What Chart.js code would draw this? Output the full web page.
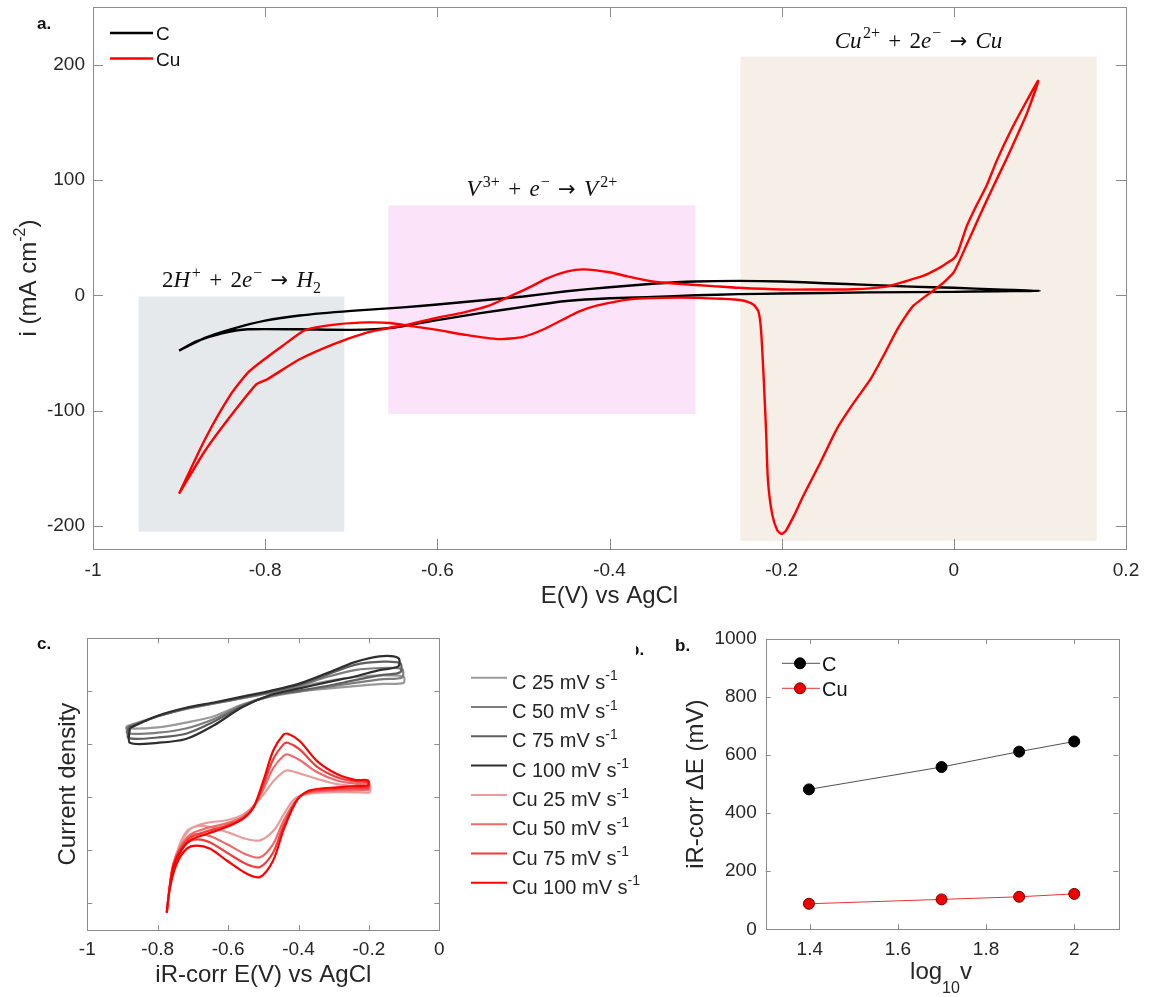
<!DOCTYPE html>
<html>
<head>
<meta charset="utf-8">
<script src="https://cdn.jsdelivr.net/npm/chart.js@4.4.0/dist/chart.umd.min.js"></script>
<style>
  body { margin: 0; background: #fff; }
  #page { position: relative; width: 1150px; height: 997px; overflow: hidden; font-family: "Liberation Sans", Arial, sans-serif; }
  canvas { position: absolute; }
  .tag { position: absolute; font-weight: bold; font-size: 17px; line-height: 17px; color: #111; }
</style>
</head>
<body>
<div id="page">
  <canvas id="cvA" width="1150" height="615" style="left:0;top:0"></canvas>
  <canvas id="cvC" width="650" height="382" style="left:0;top:615px"></canvas>
  <canvas id="cvB" width="530" height="382" style="left:620px;top:615px"></canvas>
  <div class="tag" style="left:37px;top:15px">a.</div>
  <div class="tag" style="left:37px;top:635px">c.</div>
  <div class="tag" style="left:675px;top:637px">b.</div>
  <div class="tag" style="left:636px;top:646px;width:12px;height:12px;overflow:hidden"><span style="position:absolute;left:-7px;top:-5px">b.</span></div>
</div>
<script>
// ---- panel a: full CV, [E (V), i (mA cm-2)] ----
const carbonCV = [
  [-0.900,-48],[-0.870,-37],[-0.840,-29.5],[-0.800,-22],[-0.760,-17.5],[-0.700,-13.5],[-0.640,-10.5],
  [-0.600,-8],[-0.550,-4.5],[-0.500,-1],[-0.450,3.5],[-0.400,7],[-0.350,10],[-0.300,12],[-0.250,12.5],
  [-0.200,12],[-0.150,10.5],[-0.100,9],[-0.050,7.5],[0.000,6.5],[0.050,5],[0.100,3.8],
  [0.050,3.5],[0.000,3],[-0.100,2.5],[-0.200,1.5],[-0.250,1],[-0.300,0],[-0.350,-1.5],[-0.400,-2.5],
  [-0.450,-5],[-0.500,-10],[-0.550,-15.5],[-0.600,-21.5],[-0.650,-28],[-0.700,-30],[-0.760,-29.5],
  [-0.820,-29.5],[-0.850,-33],[-0.880,-40],[-0.900,-48]
];
const copperCV = [
  [-0.900,-172],[-0.870,-125],[-0.840,-86],[-0.820,-67],[-0.800,-55],[-0.780,-44],[-0.753,-30],
  [-0.714,-25],[-0.680,-23.5],[-0.655,-24],[-0.632,-26.5],[-0.600,-30],[-0.570,-34],[-0.530,-38],
  [-0.500,-36],[-0.475,-29],[-0.454,-21],[-0.435,-14],[-0.415,-9],[-0.376,-3.5],[-0.320,-2],
  [-0.270,-3],[-0.245,-4.5],[-0.233,-8],[-0.227,-14],[-0.224,-30],[-0.221,-70],[-0.218,-120],
  [-0.216,-160],[-0.211,-190],[-0.205,-204],[-0.200,-207],[-0.195,-204],[-0.185,-190],[-0.175,-174],
  [-0.155,-145],[-0.136,-116],[-0.117,-94],[-0.097,-73],[-0.080,-50],[-0.066,-30],[-0.055,-17],
  [-0.047,-9],[-0.035,-2],[-0.024,4],[-0.012,11],[0.000,20],[0.015,44],[0.030,69],[0.045,93],
  [0.061,118],[0.075,141],[0.085,158],[0.098,186],
  [0.082,165],[0.065,141],[0.050,117],[0.038,95],[0.025,76],[0.015,60],[0.005,38],[0.000,32],
  [-0.010,27],[-0.020,22.5],[-0.035,17],[-0.055,12.4],[-0.078,7.5],[-0.117,5.2],[-0.160,5],
  [-0.200,5],[-0.250,6.5],[-0.280,8],[-0.320,10],[-0.350,12],[-0.380,16.5],[-0.400,20],
  [-0.430,22.5],[-0.450,20.5],[-0.473,14.5],[-0.490,8],[-0.510,1],[-0.540,-9],[-0.570,-15],
  [-0.600,-19.5],[-0.632,-25],[-0.660,-29],[-0.682,-32.4],[-0.721,-42.5],[-0.760,-55.5],
  [-0.798,-73],[-0.810,-77],[-0.837,-101.7],[-0.870,-135],[-0.900,-172]
];
const regionE = [[-0.947, -0.708], [-0.657, -0.300], [-0.248, 0.166]];
const regionI = [[-205, -1], [-103, 78], [-213, 207]];
const ticksEa = [-1, -0.8, -0.6, -0.4, -0.2, 0, 0.2];
const ticksIa = [-200, -100, 0, 100, 200];

// ---- panel c: iR-corrected CVs, [E (V), current density (arb.)] ----
const carbon25 = [[-0.889,3.34],[-0.80,3.53],[-0.72,3.67],[-0.64,3.77],[-0.56,3.87],[-0.48,3.97],[-0.40,4.08],[-0.32,4.19],[-0.24,4.27],[-0.16,4.30],[-0.102,4.28],
  [-0.102,4.16],[-0.16,4.14],[-0.24,4.10],[-0.32,4.05],[-0.40,3.99],[-0.48,3.90],[-0.56,3.75],[-0.64,3.53],[-0.72,3.41],[-0.80,3.32],[-0.889,3.30],[-0.889,3.34]];
const carbon50 = [[-0.886,3.33],[-0.80,3.53],[-0.72,3.67],[-0.64,3.77],[-0.56,3.87],[-0.48,3.98],[-0.40,4.10],[-0.32,4.27],[-0.24,4.40],[-0.16,4.44],[-0.106,4.42],
  [-0.106,4.26],[-0.16,4.23],[-0.24,4.16],[-0.32,4.08],[-0.40,4.00],[-0.48,3.91],[-0.56,3.74],[-0.64,3.48],[-0.72,3.30],[-0.80,3.22],[-0.886,3.21],[-0.886,3.33]];
const carbon75 = [[-0.883,3.32],[-0.80,3.53],[-0.72,3.68],[-0.64,3.78],[-0.56,3.88],[-0.48,3.99],[-0.40,4.12],[-0.32,4.31],[-0.24,4.50],[-0.16,4.56],[-0.111,4.53],
  [-0.111,4.36],[-0.16,4.31],[-0.24,4.21],[-0.32,4.10],[-0.40,4.01],[-0.48,3.92],[-0.56,3.72],[-0.64,3.43],[-0.72,3.20],[-0.80,3.13],[-0.883,3.12],[-0.883,3.32]];
const carbon100 = [[-0.879,3.31],[-0.80,3.54],[-0.72,3.69],[-0.64,3.79],[-0.56,3.90],[-0.48,4.01],[-0.40,4.14],[-0.32,4.34],[-0.24,4.55],[-0.17,4.66],[-0.1165,4.63],
  [-0.1165,4.47],[-0.17,4.40],[-0.24,4.28],[-0.32,4.17],[-0.40,4.05],[-0.48,3.93],[-0.56,3.70],[-0.64,3.36],[-0.72,3.10],[-0.80,3.03],[-0.879,3.03],[-0.879,3.31]];
const copper25 = [[-0.197,2.09],[-0.29,2.10],[-0.37,2.07],[-0.41,1.98],[-0.44,1.70],[-0.47,1.38],[-0.509,1.19],[-0.55,1.22],[-0.60,1.34],[-0.65,1.44],[-0.685,1.46],[-0.718,1.36],[-0.746,0.95],[-0.765,0.35],[-0.774,-0.16],
  [-0.766,0.32],[-0.756,0.75],[-0.737,1.10],[-0.708,1.40],[-0.661,1.52],[-0.604,1.57],[-0.557,1.68],[-0.528,1.84],[-0.50,2.05],[-0.472,2.30],[-0.443,2.48],[-0.43,2.51],[-0.396,2.45],[-0.348,2.35],[-0.291,2.25],[-0.24,2.21],[-0.197,2.20],[-0.197,2.09]];
const copper50 = [[-0.20,2.14],[-0.29,2.13],[-0.37,2.09],[-0.405,1.96],[-0.443,1.55],[-0.472,1.12],[-0.509,0.87],[-0.547,0.92],[-0.604,1.12],[-0.651,1.27],[-0.689,1.31],[-0.718,1.22],[-0.746,0.86],[-0.765,0.33],[-0.774,-0.16],
  [-0.766,0.31],[-0.756,0.73],[-0.737,1.05],[-0.708,1.30],[-0.661,1.42],[-0.604,1.51],[-0.557,1.64],[-0.528,1.82],[-0.50,2.15],[-0.472,2.55],[-0.443,2.78],[-0.43,2.81],[-0.396,2.70],[-0.348,2.48],[-0.291,2.32],[-0.24,2.26],[-0.20,2.24],[-0.20,2.14]];
const copper75 = [[-0.20,2.18],[-0.29,2.16],[-0.37,2.11],[-0.405,1.95],[-0.443,1.46],[-0.472,0.96],[-0.509,0.69],[-0.547,0.74],[-0.604,0.96],[-0.651,1.15],[-0.689,1.21],[-0.718,1.13],[-0.746,0.80],[-0.765,0.32],[-0.774,-0.16],
  [-0.766,0.30],[-0.756,0.71],[-0.737,1.01],[-0.708,1.24],[-0.661,1.36],[-0.604,1.47],[-0.557,1.62],[-0.528,1.81],[-0.50,2.23],[-0.472,2.72],[-0.443,3.00],[-0.43,3.03],[-0.396,2.90],[-0.348,2.58],[-0.291,2.38],[-0.24,2.30],[-0.20,2.28],[-0.20,2.18]];
const copper100 = [[-0.202,2.22],[-0.29,2.19],[-0.37,2.13],[-0.405,1.94],[-0.443,1.38],[-0.472,0.81],[-0.509,0.50],[-0.547,0.56],[-0.604,0.81],[-0.651,1.03],[-0.689,1.09],[-0.718,1.03],[-0.746,0.75],[-0.765,0.31],[-0.774,-0.16],
  [-0.766,0.30],[-0.756,0.69],[-0.737,0.97],[-0.708,1.19],[-0.661,1.31],[-0.604,1.44],[-0.557,1.60],[-0.528,1.81],[-0.50,2.31],[-0.472,2.88],[-0.443,3.18],[-0.43,3.20],[-0.396,3.06],[-0.348,2.69],[-0.291,2.44],[-0.24,2.33],[-0.202,2.32],[-0.202,2.22]];
const scanRates = ['25', '50', '75', '100'];
const ticksEc = [-1, -0.8, -0.6, -0.4, -0.2, 0];
const ticksJc = [0, 1, 2, 3, 4, 5];

// ---- panel b: peak separation vs log scan rate ----
const logScanRate = [1.398, 1.699, 1.875, 2.0];
const deltaE_C = [482, 559, 612, 647];
const deltaE_Cu = [88, 103, 112, 122];
const ticksLogV = [1.4, 1.6, 1.8, 2];
const ticksDeltaE = [0, 200, 400, 600, 800, 1000];

// ---- styling ----
const SANS = '"Liberation Sans", Arial, sans-serif';
const SERIF = '"Liberation Serif", "Times New Roman", serif';
const ARROW = '"DejaVu Sans", sans-serif';
const INK = '#262626';
const regionFill = ['#e5e9eb', '#fbe4fa', '#f6efe8'];
const carbonShades = ['#9a9a9a', '#7d7d7d', '#5f5f5f', '#2e2e2e'];
const copperShades = ['#e89c9c', '#eb6a6a', '#f23c3c', '#ff0000'];

Chart.defaults.font.family = SANS;

const toXY = arr => arr.map(p => ({ x: p[0], y: p[1] }));
const fmt = v => String(Math.round(v * 10) / 10);
const setTicks = vals => s => { s.ticks = vals.map(v => ({ value: v })); };
const fixBox = (dim, size) => s => {
  s[dim] = size;
  s.paddingTop = 0; s.paddingBottom = 0; s.paddingLeft = 0; s.paddingRight = 0;
};

// rich text: [text, kind]; kind r | i | a (arrow) | sup | sub | low | gap
function partFont(kind, size, fam) {
  const small = Math.round(size * 0.68);
  if (kind === 'i') return 'italic ' + size + 'px ' + fam;
  if (kind === 'a') return Math.round(size * 0.9) + 'px ' + ARROW;
  if (kind === 'sup' || kind === 'sub' || kind === 'low') return small + 'px ' + fam;
  return size + 'px ' + fam;
}
function partShift(kind, size) {
  if (kind === 'sup') return -size * 0.42;
  if (kind === 'sub') return size * 0.22;
  if (kind === 'low') return size * 0.6;
  return 0;
}
function richWidth(ctx, parts, size, fam) {
  let w = 0;
  parts.forEach(([t, k]) => {
    if (k === 'gap') { w += t * size; return; }
    ctx.font = partFont(k, size, fam);
    w += ctx.measureText(t).width;
  });
  return w;
}
function drawRich(ctx, parts, x, y, size, fam, color, align) {
  let cx = align === 'center' ? x - richWidth(ctx, parts, size, fam) / 2 : x;
  ctx.fillStyle = color;
  ctx.textBaseline = 'alphabetic';
  ctx.textAlign = 'left';
  parts.forEach(([t, k]) => {
    if (k === 'gap') { cx += t * size; return; }
    ctx.font = partFont(k, size, fam);
    ctx.fillText(t, cx, y + partShift(k, size));
    cx += ctx.measureText(t).width;
  });
}

const OP = 0.36;
const regionLabels = [
  [['2','r'],['H','i'],[0.08,'gap'],['+','sup'],[OP,'gap'],['+','r'],[OP,'gap'],['2','r'],['e','i'],[0.05,'gap'],['\u2212','sup'],[OP,'gap'],['\u2192','a'],[OP,'gap'],['H','i'],['2','sub']],
  [['V','i'],[0.1,'gap'],['3+','sup'],[OP,'gap'],['+','r'],[OP,'gap'],['e','i'],[0.05,'gap'],['\u2212','sup'],[OP,'gap'],['\u2192','a'],[OP,'gap'],['V','i'],[0.1,'gap'],['2+','sup']],
  [['Cu','i'],[0.06,'gap'],['2+','sup'],[OP,'gap'],['+','r'],[OP,'gap'],['2','r'],['e','i'],[0.05,'gap'],['\u2212','sup'],[OP,'gap'],['\u2192','a'],[OP,'gap'],['Cu','i']]
];

// inward tick marks and box, MATLAB style
const framePlugin = {
  id: 'frame',
  afterDraw(chart, args, opts) {
    const { ctx, chartArea: a, scales: { x, y } } = chart;
    const L = opts.len;
    ctx.save();
    ctx.strokeStyle = '#8c8c8c';
    ctx.lineWidth = 1;
    ctx.beginPath();
    x.ticks.forEach(t => {
      const px = Math.round(x.getPixelForValue(t.value)) + 0.5;
      if (px < a.left + 2 || px > a.right - 2) return;
      ctx.moveTo(px, a.bottom); ctx.lineTo(px, a.bottom - L);
      ctx.moveTo(px, a.top); ctx.lineTo(px, a.top + L);
    });
    y.ticks.forEach(t => {
      const py = Math.round(y.getPixelForValue(t.value)) + 0.5;
      if (py < a.top + 2 || py > a.bottom - 2) return;
      ctx.moveTo(a.left, py); ctx.lineTo(a.left + L, py);
      ctx.moveTo(a.right, py); ctx.lineTo(a.right - L, py);
    });
    ctx.stroke();
    ctx.strokeRect(Math.round(a.left) + 0.5, Math.round(a.top) + 0.5, Math.round(a.width), Math.round(a.height));
    ctx.restore();
  }
};

// shaded reaction windows for panel a
const regionPlugin = {
  id: 'regions',
  beforeDatasetsDraw(chart) {
    const { ctx, scales: { x, y } } = chart;
    ctx.save();
    regionE.forEach((e, k) => {
      const x0 = x.getPixelForValue(e[0]), x1 = x.getPixelForValue(e[1]);
      const y0 = y.getPixelForValue(regionI[k][1]), y1 = y.getPixelForValue(regionI[k][0]);
      ctx.fillStyle = regionFill[k];
      ctx.fillRect(x0, y0, x1 - x0, y1 - y0);
      drawRich(ctx, regionLabels[k], (x0 + x1) / 2, y0 - 9, 23, SERIF, '#111', 'center');
    });
    ctx.restore();
  }
};

// panel a: legend + y title with superscript
const decorA = {
  id: 'decorA',
  afterDraw(chart) {
    const ctx = chart.ctx;
    ctx.save();
    chart.data.datasets.forEach((ds, k) => {
      const yy = 33 + k * 25.5;
      ctx.strokeStyle = ds.borderColor;
      ctx.lineWidth = 2.4;
      ctx.beginPath(); ctx.moveTo(110, yy); ctx.lineTo(153, yy); ctx.stroke();
      drawRich(ctx, [[ds.label, 'r']], 156, yy + 7, 19, SANS, '#111', 'left');
    });
    ctx.translate(27, 278);
    ctx.rotate(-Math.PI / 2);
    drawRich(ctx, [['i (mA cm', 'r'], ['-2', 'sup'], [')', 'r']], 0, 8.5, 24, SANS, INK, 'center');
    ctx.restore();
  }
};

// panel c: outside legend with superscripts
const decorC = {
  id: 'decorC',
  afterDraw(chart) {
    const ctx = chart.ctx;
    ctx.save();
    chart.data.datasets.forEach((ds, k) => {
      const yy = 66.7 + k * 29.3;
      ctx.strokeStyle = ds.borderColor;
      ctx.lineWidth = 2;
      ctx.beginPath(); ctx.moveTo(471, yy - 4); ctx.lineTo(507, yy - 4); ctx.stroke();
      drawRich(ctx, [[ds.label + ' mV s', 'r'], ['-1', 'sup']], 512, yy + 7, 20, SANS, INK, 'left');
    });
    ctx.restore();
  }
};

// panel b: inset legend + x title with subscript
const decorB = {
  id: 'decorB',
  afterDraw(chart) {
    const ctx = chart.ctx;
    ctx.save();
    chart.data.datasets.forEach((ds, k) => {
      const yy = 48.3 + k * 25;
      ctx.strokeStyle = ds.borderColor;
      ctx.lineWidth = 1;
      ctx.beginPath(); ctx.moveTo(162, yy); ctx.lineTo(200, yy); ctx.stroke();
      ctx.fillStyle = ds.pointBackgroundColor;
      ctx.strokeStyle = ds.pointBorderColor;
      ctx.beginPath(); ctx.arc(180, yy, 5.5, 0, Math.PI * 2); ctx.fill(); ctx.stroke();
      drawRich(ctx, [[ds.label, 'r']], 202, yy + 7.5, 20, SANS, '#111', 'left');
    });
    drawRich(ctx, [['log', 'r'], ['10', 'low'], ['v', 'r']], 321, 364, 24, SANS, INK, 'center');
    ctx.restore();
  }
};

const tickFont = { family: SANS, size: 19 };
const titleFont = { family: SANS, size: 24 };
const baseOpts = {
  responsive: false,
  animation: false,
  events: [],
};

// ---------- panel a ----------
new Chart(document.getElementById('cvA'), {
  type: 'scatter',
  data: {
    datasets: [
      { label: 'C', data: toXY(carbonCV), borderColor: '#000', borderWidth: 2.4, showLine: true, pointRadius: 0, tension: 0.2, order: 2 },
      { label: 'Cu', data: toXY(copperCV), borderColor: '#ff0000', borderWidth: 2.4, showLine: true, pointRadius: 0, tension: 0.2, order: 1 }
    ]
  },
  options: Object.assign({}, baseOpts, {
    layout: { padding: { top: 7, right: 24, left: 0, bottom: 0 } },
    plugins: { legend: { display: false }, tooltip: { enabled: false }, frame: { len: 10 } },
    scales: {
      x: {
        type: 'linear', min: -1, max: 0.2,
        afterBuildTicks: setTicks(ticksEa),
        afterFit: fixBox('height', 66),
        grid: { display: false, drawTicks: false }, border: { display: false },
        ticks: { padding: 10, font: tickFont, color: INK, maxRotation: 0, callback: v => fmt(v) },
        title: { display: true, text: 'E(V) vs AgCl', font: titleFont, color: INK, padding: { top: 0, bottom: 4 } }
      },
      y: {
        type: 'linear', min: -220, max: 250,
        afterBuildTicks: setTicks(ticksIa),
        afterFit: fixBox('width', 93),
        grid: { display: false, drawTicks: false }, border: { display: false },
        ticks: { padding: 8, font: tickFont, color: INK, callback: v => String(v) }
      }
    }
  }),
  plugins: [regionPlugin, framePlugin, decorA]
});

// ---------- panel c ----------
const curvesC = [carbon25, carbon50, carbon75, carbon100];
const curvesCu = [copper25, copper50, copper75, copper100];
const dsC = [];
curvesC.forEach((c, k) => dsC.push({ label: 'C ' + scanRates[k], data: toXY(c), borderColor: carbonShades[k] }));
curvesCu.forEach((c, k) => dsC.push({ label: 'Cu ' + scanRates[k], data: toXY(c), borderColor: copperShades[k] }));
dsC.forEach((d, k) => Object.assign(d, { borderWidth: 2.2, showLine: true, pointRadius: 0, tension: 0.3, order: dsC.length - k }));

new Chart(document.getElementById('cvC'), {
  type: 'scatter',
  data: { datasets: dsC },
  options: Object.assign({}, baseOpts, {
    layout: { padding: { top: 23.3, right: 210.7, left: 0, bottom: 0 } },
    plugins: { legend: { display: false }, tooltip: { enabled: false }, frame: { len: 5 } },
    scales: {
      x: {
        type: 'linear', min: -1, max: 0,
        afterBuildTicks: setTicks(ticksEc),
        afterFit: fixBox('height', 67),
        grid: { display: false, drawTicks: false }, border: { display: false },
        ticks: { padding: 8.6, font: tickFont, color: INK, maxRotation: 0, callback: v => fmt(v) },
        title: { display: true, text: 'iR-corr E(V) vs AgCl', font: titleFont, color: INK, padding: { top: 0, bottom: 7.6 } }
      },
      y: {
        type: 'linear', min: -0.5, max: 5,
        afterBuildTicks: setTicks(ticksJc),
        afterFit: fixBox('width', 87.3),
        grid: { display: false, drawTicks: false }, border: { display: false },
        ticks: { display: false },
        title: { display: true, text: 'Current density', font: titleFont, color: INK, padding: { top: 53.6, bottom: 0 } }
      }
    }
  }),
  plugins: [framePlugin, decorC]
});

// ---------- panel b ----------
new Chart(document.getElementById('cvB'), {
  type: 'scatter',
  data: {
    datasets: [
      { label: 'C', data: logScanRate.map((v, k) => ({ x: v, y: deltaE_C[k] })), borderColor: '#505050', borderWidth: 1,
        pointBackgroundColor: '#000', pointBorderColor: '#000', pointRadius: 5.5, pointBorderWidth: 1, showLine: true },
      { label: 'Cu', data: logScanRate.map((v, k) => ({ x: v, y: deltaE_Cu[k] })), borderColor: '#e63232', borderWidth: 1,
        pointBackgroundColor: '#ee0000', pointBorderColor: '#7a0000', pointRadius: 5.5, pointBorderWidth: 1, showLine: true }
    ]
  },
  options: Object.assign({}, baseOpts, {
    layout: { padding: { top: 24, right: 31.7, left: 0, bottom: 0 } },
    plugins: { legend: { display: false }, tooltip: { enabled: false }, frame: { len: 5 } },
    scales: {
      x: {
        type: 'linear', min: 1.3, max: 2.1,
        afterBuildTicks: setTicks(ticksLogV),
        afterFit: fixBox('height', 67.7),
        grid: { display: false, drawTicks: false }, border: { display: false },
        ticks: { padding: 9.3, font: tickFont, color: INK, maxRotation: 0, callback: v => fmt(v) }
      },
      y: {
        type: 'linear', min: 0, max: 1000,
        afterBuildTicks: setTicks(ticksDeltaE),
        afterFit: fixBox('width', 145.7),
        grid: { display: false, drawTicks: false }, border: { display: false },
        ticks: { padding: 9, font: tickFont, color: INK, callback: v => String(v) },
        title: { display: true, text: 'iR-corr \u0394E (mV)', font: titleFont, color: INK, padding: { top: 62, bottom: 0 } }
      }
    }
  }),
  plugins: [framePlugin, decorB]
});
</script>
</body>
</html>
